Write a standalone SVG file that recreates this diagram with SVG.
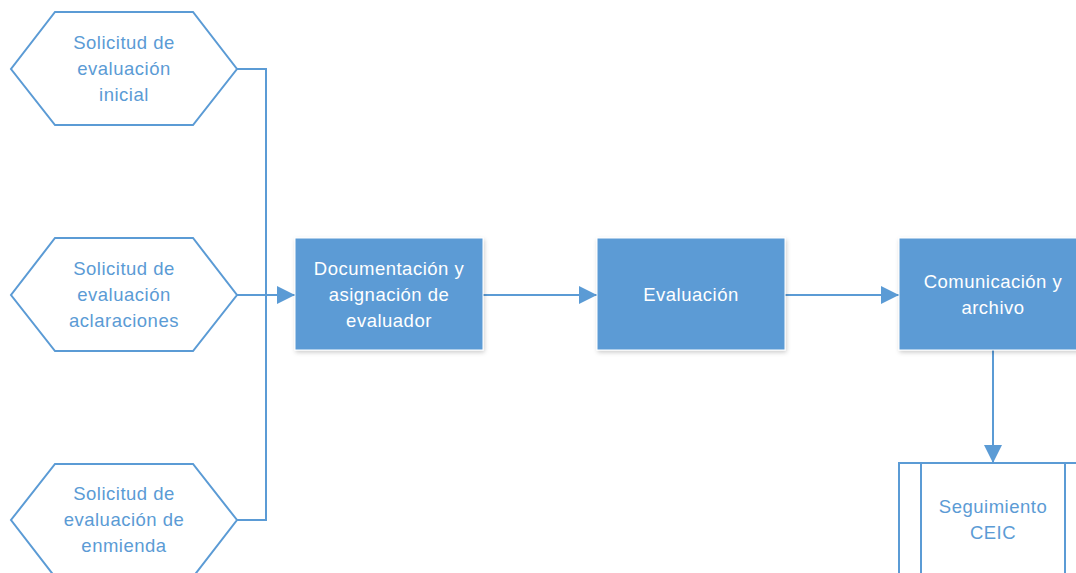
<svg xmlns="http://www.w3.org/2000/svg" width="1076" height="573" viewBox="0 0 1076 573">
<defs>
<style>
.hex{fill:#fff;stroke:#5B9BD5;stroke-width:2}
.box{fill:#5B9BD5;stroke:#fff;stroke-width:1}
.sub{fill:#fff;stroke:#5B9BD5;stroke-width:2}
.con{fill:none;stroke:#5B9BD5;stroke-width:2}
.t{font-family:"Liberation Sans",Arial,sans-serif;font-size:18.5px;letter-spacing:0.5px;text-anchor:middle}
.tb{fill:#5B9BD5}
.tw{fill:#fff}
</style>
<marker id="ah2" viewBox="0 0 10 10" refX="10" refY="5" markerWidth="18" markerHeight="18" markerUnits="userSpaceOnUse" orient="auto">
<path d="M0,0 L10,5 L0,10 Z" fill="#5B9BD5"/>
</marker>
<filter id="sh" x="-10%" y="-10%" width="125%" height="130%">
<feDropShadow dx="1" dy="2" stdDeviation="2" flood-color="#000" flood-opacity="0.2"/>
</filter>
</defs>
<g id="connectors">
<polyline class="con" points="237,69 266,69 266,520 237,520"/>
<line class="con" x1="237" y1="295" x2="295" y2="295" marker-end="url(#ah2)"/>
<line class="con" x1="483" y1="295" x2="597" y2="295" marker-end="url(#ah2)"/>
<line class="con" x1="785" y1="295" x2="899" y2="295" marker-end="url(#ah2)"/>
<line class="con" x1="993" y1="350" x2="993" y2="463" marker-end="url(#ah2)"/>
</g>
<g id="hex1">
<polygon class="hex" points="55,12 193,12 237,69 193,125 55,125 11,69"/>
<text class="t tb" x="124" y="49">Solicitud de</text>
<text class="t tb" x="124" y="75">evaluación</text>
<text class="t tb" x="124" y="101">inicial</text>
</g>
<g id="hex2">
<polygon class="hex" points="55,238 193,238 237,295 193,351 55,351 11,295"/>
<text class="t tb" x="124" y="275">Solicitud de</text>
<text class="t tb" x="124" y="301">evaluación</text>
<text class="t tb" x="124" y="327">aclaraciones</text>
</g>
<g id="hex3">
<polygon class="hex" points="55,464 193,464 237,520 193,577 55,577 11,520"/>
<text class="t tb" x="124" y="500">Solicitud de</text>
<text class="t tb" x="124" y="526">evaluación de</text>
<text class="t tb" x="124" y="552">enmienda</text>
</g>
<g id="box1">
<rect class="box" x="295" y="238" width="188" height="112" filter="url(#sh)"/>
<text class="t tw" x="389" y="275">Documentación y</text>
<text class="t tw" x="389" y="301">asignación de</text>
<text class="t tw" x="389" y="327">evaluador</text>
</g>
<g id="box2">
<rect class="box" x="597" y="238" width="188" height="112" filter="url(#sh)"/>
<text class="t tw" x="691" y="301">Evaluación</text>
</g>
<g id="box3">
<rect class="box" x="899" y="238" width="188" height="112" filter="url(#sh)"/>
<text class="t tw" x="993" y="288">Comunicación y</text>
<text class="t tw" x="993" y="314">archivo</text>
</g>
<g id="sub1">
<rect class="sub" x="899" y="463" width="188" height="130"/>
<line class="con" x1="921" y1="463" x2="921" y2="593"/>
<line class="con" x1="1065" y1="463" x2="1065" y2="593"/>
<text class="t tb" x="993" y="513">Seguimiento</text>
<text class="t tb" x="993" y="539">CEIC</text>
</g>
</svg>
